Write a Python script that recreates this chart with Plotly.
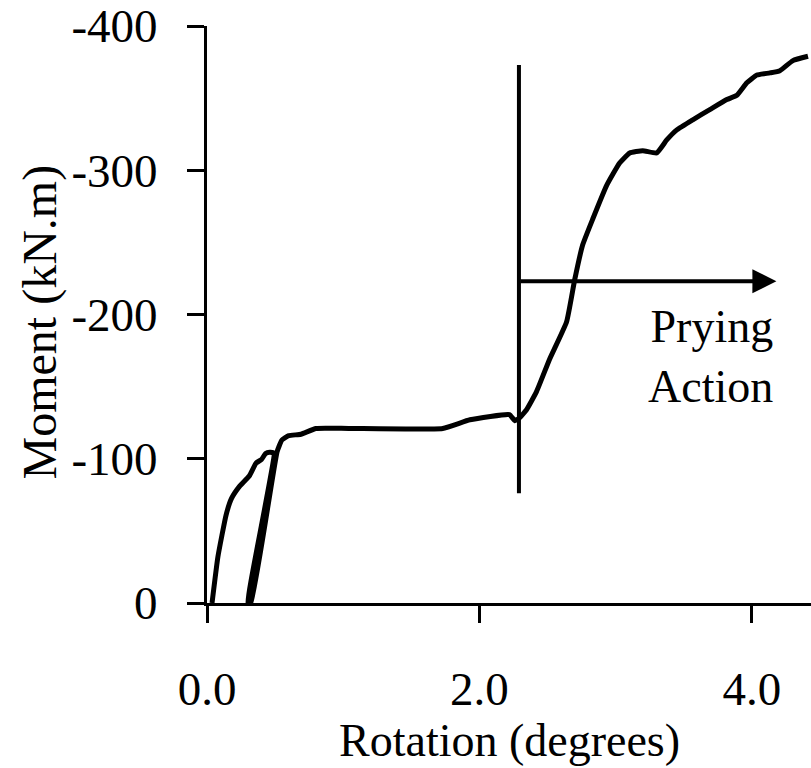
import plotly.graph_objects as go

# Moment-rotation curve (rotation in degrees, moment in kN.m)
rotation = [0.037, 0.08, 0.14, 0.18, 0.24, 0.31, 0.36, 0.40, 0.43, 0.46, 0.49,
            0.30, 0.322, 0.515, 0.55, 0.60, 0.69, 0.80, 1.04, 1.73, 1.93, 2.22,
            2.26, 2.29, 2.346, 2.419, 2.515, 2.640, 2.699, 2.757, 2.831, 2.934,
            3.029, 3.103, 3.199, 3.301, 3.375, 3.449, 3.566, 3.691, 3.816, 3.890,
            3.963, 4.037, 4.132, 4.206, 4.301, 4.412]
moment = [0, -32, -61, -72.5, -81, -88, -97, -99.5, -103.6, -104.5, -104,
          0, 0, -105, -113, -116, -117, -121, -121, -121, -127, -130.6,
          -126.4, -128, -134, -146.5, -169, -195, -224, -248, -266, -289.5,
          -305, -312, -313.6, -312, -321, -328, -335, -342, -349, -352,
          -360.6, -366, -367.5, -369, -376, -379]

# Prying-action marker
divider_rot = [2.29, 2.29]
divider_mom = [-76, -373]
arrow_start = (2.29, -223)
arrow_end = (4.18, -223)

x_tickvals = [0, 2, 4]
x_ticktext = ["0.0", "2.0", "4.0"]
y_tickvals = [-400, -300, -200, -100, 0]
y_ticktext = ["-400", "-300", "-200", "-100", "0"]

FONT = "Liberation Serif, Times New Roman, serif"

fig = go.Figure()
fig.add_trace(go.Scatter(x=rotation, y=moment, mode="lines",
                         line=dict(color="black", width=5, shape="spline", smoothing=0.4),
                         showlegend=False))
fig.add_trace(go.Scatter(x=divider_rot, y=divider_mom, mode="lines",
                         line=dict(color="black", width=4), showlegend=False))

fig.add_annotation(x=arrow_end[0], y=arrow_end[1], ax=arrow_start[0], ay=arrow_start[1],
                   xref="x", yref="y", axref="x", ayref="y", text="",
                   showarrow=True, arrowhead=2, arrowsize=1.2, arrowwidth=4,
                   arrowcolor="black")
fig.add_annotation(x=4.17, y=-171, xref="x", yref="y", text="Prying<br>Action",
                   showarrow=False, xanchor="right", yanchor="middle", align="right",
                   font=dict(family=FONT, size=46, color="black"))

# axis titles
fig.add_annotation(x=0.5, y=0, xref="paper", yref="paper", text="Rotation (degrees)",
                   showarrow=False, xanchor="center", yanchor="top", yshift=-110,
                   font=dict(family=FONT, size=46, color="black"))
fig.add_annotation(x=0, y=0.5, xref="paper", yref="paper", text="Moment (kN.m)",
                   showarrow=False, textangle=-90, xanchor="left", yanchor="middle",
                   xshift=-197, yshift=-8,
                   font=dict(family=FONT, size=48, color="black"))

fig.update_layout(
    width=811, height=768,
    margin=dict(l=207, r=0, t=23, b=165),
    plot_bgcolor="white", paper_bgcolor="white",
    font=dict(family=FONT, size=47, color="black"),
)
fig.update_xaxes(range=[0, 4.434], tickvals=x_tickvals, ticktext=x_ticktext,
                 showgrid=False, zeroline=False, showline=True, linecolor="black",
                 linewidth=3, ticks="outside", ticklen=17, tickwidth=3,
                 tickcolor="black", ticklabelstandoff=26, ticklabeloverflow="allow")
fig.update_yaxes(range=[0, -400], tickvals=y_tickvals, ticktext=y_ticktext,
                 showgrid=False, zeroline=False, showline=True, linecolor="black",
                 linewidth=3, ticks="outside", ticklen=17, tickwidth=3,
                 tickcolor="black", ticklabelstandoff=20, ticklabeloverflow="allow")

fig.write_html("out.html")
